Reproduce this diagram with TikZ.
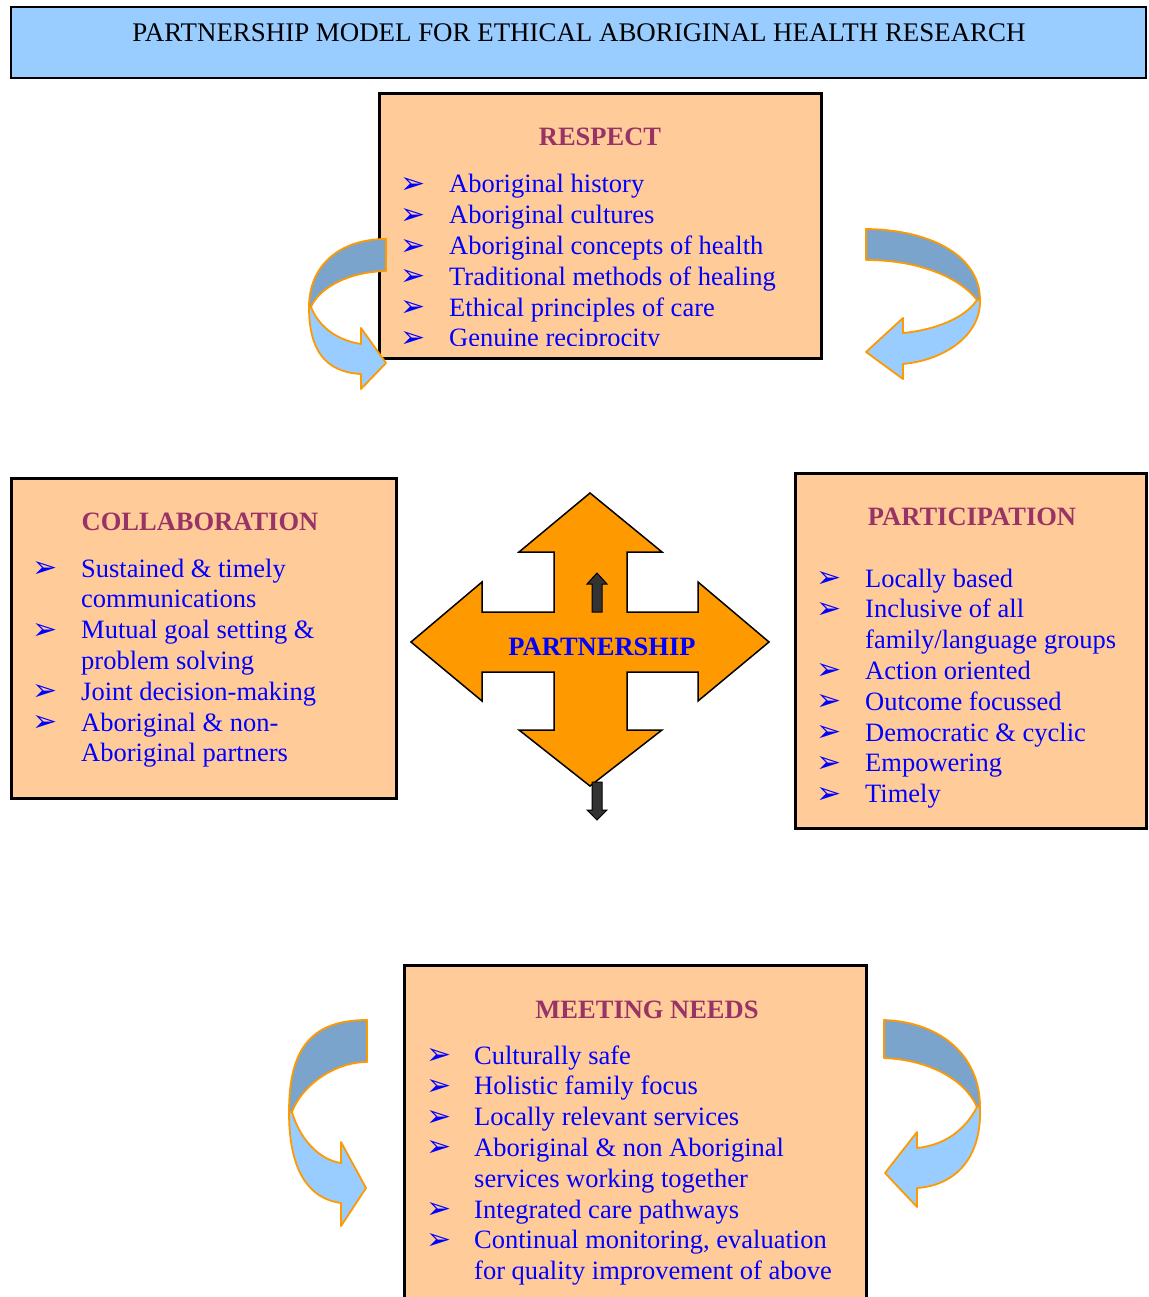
\documentclass[tikz,border=0pt]{standalone}
\usepackage{fontspec}
\setmainfont{Liberation Serif}
\newfontfamily\dingfont{DejaVu Sans}
\usepackage{array}
\usetikzlibrary{positioning}
\definecolor{titleblue}{HTML}{99CCFF}
\definecolor{boxfill}{HTML}{FFCC99}
\definecolor{headred}{HTML}{993366}
\definecolor{crossorange}{HTML}{FF9900}
\definecolor{bandlight}{HTML}{99CCFF}
\definecolor{banddark}{HTML}{7BA4CC}
\definecolor{arrowgrey}{HTML}{333333}
\newcommand{\bul}{\hspace*{-3pt}\raisebox{-0.5pt}{\dingfont\fontsize{30}{30}\selectfont ➢}}
\newcommand{\listfont}{\fontsize{26.5}{30.8}\selectfont}
\tikzset{
  titlebox/.style={draw,line width=2pt,fill=titleblue,minimum width=1135pt,minimum height=71pt,inner sep=0pt},
  panel/.style={draw,line width=3pt,fill=boxfill,inner sep=0pt},
  heading/.style={anchor=base,text=headred,font=\listfont\bfseries,inner sep=0pt},
  bullets/.style={anchor=base west,text=blue,font=\listfont,inner sep=0pt},
  band/.style={draw=crossorange,line width=1.8pt,line join=round},
  smallarrow/.style={draw,line width=1pt,fill=arrowgrey,line join=miter}
}

\begin{document}
\begin{tikzpicture}[x=1pt,y=-1pt]
  \clip (0,0) rectangle (1148,1297);
  \useasboundingbox (0,0) rectangle (1148,1297);

  % title
  \node[titlebox] (title) at (578.5,42.5) {};
  \node[anchor=base,font=\fontsize{26.9}{30.8}\selectfont,inner sep=0pt] (titletext) at (579,42)
    {PARTNERSHIP MODEL FOR ETHICAL ABORIGINAL HEALTH RESEARCH};

  % respect
  \node[panel,minimum width=442pt,minimum height=264pt] (respect) at (600,226) {};
  \node[heading] (respecthead) at (600,146) {RESPECT};
  \begin{scope}
    \clip (379,94) rectangle (821,345);
    \node[bullets] (respectlist) at (403,193) {\begin{tabular}[t]{@{}p{46pt}@{}l@{}}
      \bul & Aboriginal history\\
      \bul & Aboriginal cultures\\
      \bul & Aboriginal concepts of health\\
      \bul & Traditional methods of healing\\
      \bul & Ethical principles of care\\
      \bul & Genuine reciprocity
    \end{tabular}};
  \end{scope}

  % collaboration
  \node[panel,minimum width=385pt,minimum height=320pt] (collab) at (203.5,638) {};
  \node[heading] (collabhead) at (200,530) {COLLABORATION};
  \node[bullets] (collablist) at (35,577) {\begin{tabular}[t]{@{}p{46pt}@{}l@{}}
      \bul & Sustained \& timely\\
           & communications\\
      \bul & Mutual goal setting \&\\
           & problem solving\\
      \bul & Joint decision-making\\
      \bul & Aboriginal \& non-\\
           & Aboriginal partners
    \end{tabular}};

  % participation
  \node[panel,minimum width=351pt,minimum height=355pt] (particip) at (970.5,650.5) {};
  \node[heading] (partichead) at (972,525) {PARTICIPATION};
  \node[bullets] (particlist) at (819,587) {\begin{tabular}[t]{@{}p{46pt}@{}l@{}}
      \bul & Locally based\\
      \bul & Inclusive of all\\
           & family/language groups\\
      \bul & Action oriented\\
      \bul & Outcome focussed\\
      \bul & Democratic \& cyclic\\
      \bul & Empowering\\
      \bul & Timely
    \end{tabular}};

  % meeting needs
  \node[panel,minimum width=462pt,minimum height=345pt] (needs) at (635,1137.5) {};
  \node[heading] (needshead) at (647,1018) {MEETING NEEDS};
  \node[bullets] (needslist) at (429,1064) {\begin{tabular}[t]{@{}p{45pt}@{}l@{}}
      \bul & Culturally safe\\
      \bul & Holistic family focus\\
      \bul & Locally relevant services\\
      \bul & Aboriginal \& non Aboriginal\\
           & services working together\\
      \bul & Integrated care pathways\\
      \bul & Continual monitoring, evaluation\\
           & for quality improvement of above
    \end{tabular}};

  % partnership cross
  \draw[line width=1.5pt,fill=crossorange,line join=miter]
    (590,493) -- (662,552) -- (627,552) -- (627,612) -- (698,612) -- (698,582)
    -- (769,642) -- (698,701) -- (698,672) -- (627,672) -- (627,730) -- (662,730)
    -- (590,786) -- (519,730) -- (554,730) -- (554,672) -- (482,672) -- (482,701)
    -- (411,642) -- (482,582) -- (482,612) -- (554,612) -- (554,552) -- (519,552) -- cycle;
  \node[anchor=base,text=blue,font=\listfont\bfseries,inner sep=0pt] (partnership) at (602,655) {PARTNERSHIP};
  \draw[smallarrow] (592,612) -- (592,584) -- (587,584) -- (597,573) -- (607,584) -- (602,584) -- (602,612) -- cycle;
  \draw[smallarrow] (592,782) -- (592,810) -- (587,810) -- (597,820) -- (607,810) -- (602,810) -- (602,782) -- cycle;

  % curved arrows
  \filldraw[band,fill=bandlight] (309,307) .. controls (309,350) and (325,372) .. (361,374)
    -- (361,389) -- (386,363) -- (361,328) -- (361,344)
    .. controls (335,340) and (318,325) .. (311,307) -- cycle;
  \filldraw[band,fill=banddark] (386,239) .. controls (340,239) and (309,265) .. (309,307)
    -- (311,307) .. controls (318,290) and (345,272) .. (386,271) -- cycle;

  \filldraw[band,fill=bandlight] (980,300) .. controls (981,335) and (945,360) .. (903,364)
    -- (903,379) -- (866,352) -- (903,318) -- (903,333)
    .. controls (935,330) and (965,318) .. (977,300) -- cycle;
  \filldraw[band,fill=banddark] (866,229) .. controls (935,230) and (980,258) .. (980,300)
    -- (977,300) .. controls (960,278) and (920,260) .. (866,260) -- cycle;

  \filldraw[band,fill=bandlight] (289,1112) .. controls (289,1165) and (305,1198) .. (341,1203)
    -- (341,1226) -- (366,1188) -- (341,1142) -- (341,1163)
    .. controls (320,1160) and (300,1140) .. (292,1112) -- cycle;
  \filldraw[band,fill=banddark] (367,1020) .. controls (310,1020) and (289,1050) .. (289,1112)
    -- (292,1112) .. controls (302,1085) and (335,1062) .. (367,1062) -- cycle;

  \filldraw[band,fill=bandlight] (980,1107) .. controls (982,1155) and (958,1185) .. (917,1188)
    -- (917,1207) -- (885,1173) -- (917,1132) -- (917,1148)
    .. controls (945,1145) and (965,1130) .. (977,1107) -- cycle;
  \filldraw[band,fill=banddark] (884,1020) .. controls (940,1022) and (980,1055) .. (980,1107)
    -- (977,1107) .. controls (965,1080) and (930,1060) .. (884,1058) -- cycle;
\end{tikzpicture}
\end{document}
